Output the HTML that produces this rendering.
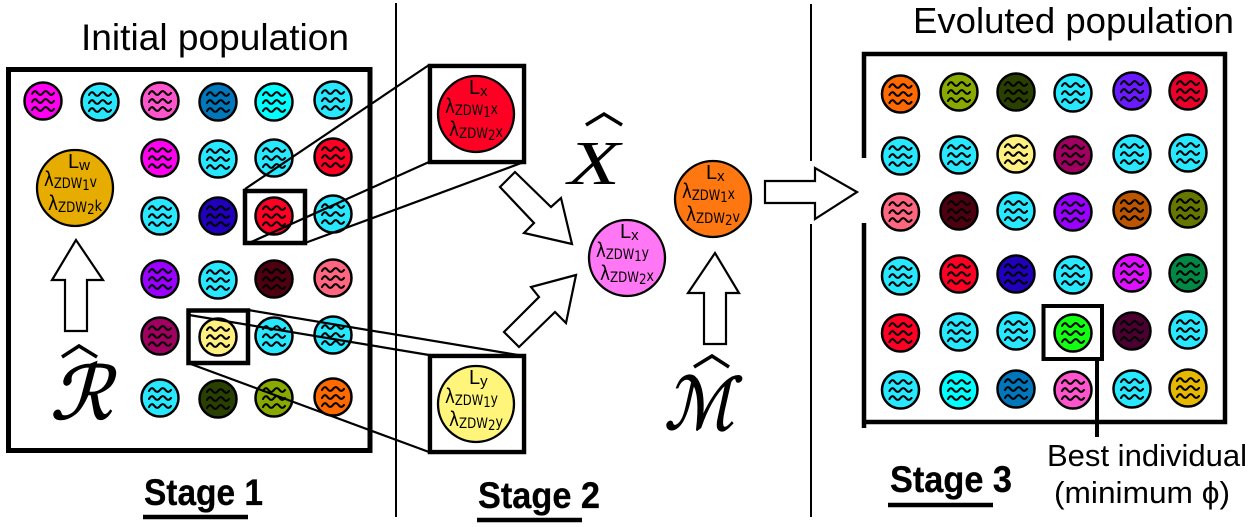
<!DOCTYPE html>
<html><head><meta charset="utf-8"><style>
html,body{margin:0;padding:0;background:#fff}
svg{display:block}
text{font-family:"Liberation Sans","DejaVu Sans",sans-serif;fill:#000}
.m{font-size:20px}.s{font-size:15px}.z{font-size:14px}.l{font-size:20px;font-family:"DejaVu Sans",sans-serif}
.b{font-weight:bold;stroke:#000;stroke-width:.3px}
</style></head><body>
<svg width="1253" height="527" viewBox="0 0 1253 527" xmlns="http://www.w3.org/2000/svg">
<defs>
<g id="w"><circle r="18.5" stroke="#000" stroke-width="2.500"/>
<path fill="none" stroke="#000" stroke-width="2.100" stroke-linecap="round" d="M-11 -7c2 -3.500 3.500 -3.500 5.500 -1s3.500 2.500 5.500 0s3.500 -2.500 5.500 0s3.500 2.500 5.500 0M-11 1c2 -3.500 3.500 -3.500 5.500 -1s3.500 2.500 5.500 0s3.500 -2.500 5.500 0s3.500 2.500 5.500 0M-11 9c2 -3.500 3.500 -3.500 5.500 -1s3.500 2.500 5.500 0s3.500 -2.500 5.500 0s3.500 2.500 5.500 0"/></g>
</defs>
<rect width="1253" height="527" fill="#fff"/>

<!-- dividers -->
<path d="M396 3V517M811 4V161M811 224V517" stroke="#000" stroke-width="2" fill="none"/>

<!-- headings -->
<text x="81" y="50" font-size="37" textLength="268" lengthAdjust="spacingAndGlyphs">Initial population</text>
<text x="913" y="33" font-size="36" textLength="321" lengthAdjust="spacingAndGlyphs">Evoluted population</text>
<text x="1047" y="466" font-size="31" textLength="200" lengthAdjust="spacingAndGlyphs">Best individual</text>
<text x="1054" y="503" font-size="31" textLength="176" lengthAdjust="spacingAndGlyphs">(minimum ϕ)</text>
<text x="144" y="505" font-size="37" class="b" textLength="119" lengthAdjust="spacingAndGlyphs">Stage 1</text>
<text x="478" y="508" font-size="37" class="b" textLength="122" lengthAdjust="spacingAndGlyphs">Stage 2</text>
<text x="890" y="492" font-size="37" class="b" textLength="122" lengthAdjust="spacingAndGlyphs">Stage 3</text>
<path d="M143 517H248M477 520H582M888 505H993" stroke="#000" stroke-width="4.500" fill="none"/>

<!-- frames -->
<rect x="8.500" y="69.500" width="361.500" height="381" fill="none" stroke="#000" stroke-width="5"/>
<path d="M864 158V54H1225V422H864M864 223V428" fill="none" stroke="#000" stroke-width="4.500"/>

<!-- left population -->
<g>
<use href="#w" x="43" y="101" fill="#ff00f0"/><use href="#w" x="100" y="102" fill="#28e8ff"/><use href="#w" x="160" y="101" fill="#ff55cc"/><use href="#w" x="218" y="102" fill="#0077bb"/><use href="#w" x="274" y="102" fill="#00ffff"/><use href="#w" x="333" y="100" fill="#28e8ff"/>
<use href="#w" x="160" y="158" fill="#ff00f0"/><use href="#w" x="218" y="159" fill="#28e8ff"/><use href="#w" x="274" y="158" fill="#28e8ff"/><use href="#w" x="333" y="157" fill="#ff0025"/>
<use href="#w" x="160" y="216" fill="#28e8ff"/><use href="#w" x="218" y="216" fill="#2000bb"/><use href="#w" x="274" y="216" fill="#ff0025"/><use href="#w" x="333" y="214" fill="#28e8ff"/>
<use href="#w" x="160" y="279" fill="#9900ff"/><use href="#w" x="218" y="280" fill="#28e8ff"/><use href="#w" x="274" y="279" fill="#4d0010"/><use href="#w" x="333" y="278" fill="#ff6680"/>
<use href="#w" x="160" y="336" fill="#a00060"/><use href="#w" x="218" y="337" fill="#fff080"/><use href="#w" x="274" y="336" fill="#28e8ff"/><use href="#w" x="333" y="335" fill="#28e8ff"/>
<use href="#w" x="160" y="398" fill="#28e8ff"/><use href="#w" x="218" y="399" fill="#2a4000"/><use href="#w" x="274" y="398" fill="#88aa00"/><use href="#w" x="333" y="397" fill="#ff6a00"/>
</g>

<!-- right population -->
<g>
<use href="#w" x="900.500" y="94" fill="#ff6a00"/><use href="#w" x="959" y="92" fill="#88aa00"/><use href="#w" x="1016" y="92" fill="#2a4000"/><use href="#w" x="1073" y="93" fill="#28e8ff"/><use href="#w" x="1132" y="91" fill="#6a1aff"/><use href="#w" x="1188" y="91" fill="#e8002a"/>
<use href="#w" x="900.500" y="156" fill="#28e8ff"/><use href="#w" x="959" y="155" fill="#28e8ff"/><use href="#w" x="1016" y="154" fill="#fff080"/><use href="#w" x="1073" y="155" fill="#a00060"/><use href="#w" x="1132" y="154" fill="#28e8ff"/><use href="#w" x="1188" y="153" fill="#28e8ff"/>
<use href="#w" x="900.500" y="212" fill="#ff6680"/><use href="#w" x="959" y="211" fill="#4d0010"/><use href="#w" x="1016" y="211" fill="#28e8ff"/><use href="#w" x="1073" y="212" fill="#9900ff"/><use href="#w" x="1132" y="210" fill="#bb5500"/><use href="#w" x="1188" y="209" fill="#667700"/>
<use href="#w" x="900.500" y="276" fill="#28e8ff"/><use href="#w" x="959" y="274" fill="#ff0025"/><use href="#w" x="1016" y="274" fill="#2000bb"/><use href="#w" x="1073" y="275" fill="#28e8ff"/><use href="#w" x="1132" y="273" fill="#dd11ff"/><use href="#w" x="1188" y="273" fill="#008844"/>
<use href="#w" x="900.500" y="333" fill="#ff0025"/><use href="#w" x="959" y="332" fill="#28e8ff"/><use href="#w" x="1016" y="331" fill="#28e8ff"/><use href="#w" x="1073" y="333" fill="#11ff11"/><use href="#w" x="1132" y="331" fill="#4a0030"/><use href="#w" x="1188" y="330" fill="#28e8ff"/>
<use href="#w" x="900.500" y="390" fill="#28e8ff"/><use href="#w" x="959" y="390" fill="#00ffff"/><use href="#w" x="1016" y="389" fill="#0077bb"/><use href="#w" x="1073" y="390" fill="#ff55cc"/><use href="#w" x="1132" y="389" fill="#28e8ff"/><use href="#w" x="1188" y="388" fill="#e6b800"/>
</g>

<!-- zoom boxes and connectors -->
<g fill="none" stroke="#000">
<path stroke-width="2.200" d="M245 189L429 65M249 243L429 162M305 243L524 162M248 310L524 356M189 315L429 355M188 363L429 452"/>
<rect x="245" y="191" width="60" height="52" stroke-width="4.500"/>
<rect x="188.500" y="310.500" width="59.500" height="52.500" stroke-width="4.500"/>
<rect x="430" y="66" width="94" height="96" stroke-width="4.500"/>
<rect x="430" y="356" width="94" height="96" stroke-width="4.500"/>
<rect x="1043.500" y="306" width="58.500" height="53" stroke-width="4"/>
<path stroke-width="4" d="M1097 359V437"/>
</g>
<rect x="432.300" y="68.300" width="89.400" height="91.400" fill="#fff"/>
<rect x="432.300" y="358.300" width="89.400" height="91.400" fill="#fff"/>

<!-- arrows -->
<g fill="#fff" stroke="#000" stroke-width="2.200" stroke-linejoin="miter">
<path d="M76 240L52 280H65V331H87V280H103Z"/>
<path d="M515 172L551 207L561 198L572 244L524 233L534 223L500 187Z"/>
<path d="M576 275L531 287L539 297L504 332L519 347L555 312L566 323Z"/>
<path d="M715 253L688 293H704V344H726V293H739Z"/>
<path d="M765 181H815V168L857 192L815 219V203H765Z"/>
</g>

<!-- big circles -->
<g stroke="#000" stroke-width="2.300">
<circle cx="75" cy="188" r="38" fill="#e6ac00"/>
<circle cx="476" cy="114" r="38" fill="#ff0025"/>
<circle cx="476" cy="404" r="38" fill="#fff57a"/>
<circle cx="627" cy="258" r="38" fill="#ff77f5"/>
<circle cx="713" cy="199" r="38" fill="#ff7711"/>
</g>
<g>
<text x="68" y="168" class="m">L<tspan class="s" dy="2">w</tspan></text>
<text x="44" y="186" class="l" textLength="53" lengthAdjust="spacingAndGlyphs">λ<tspan class="z" dy="2">ZDW</tspan><tspan class="z" dy="2">1</tspan><tspan class="s" dy="-3">v</tspan></text>
<text x="48" y="210" class="l" textLength="54" lengthAdjust="spacingAndGlyphs">λ<tspan class="z" dy="2">ZDW</tspan><tspan class="z" dy="2">2</tspan><tspan class="s" dy="-3">k</tspan></text>

<text x="469" y="94" class="m">L<tspan class="s" dy="2">x</tspan></text>
<text x="445" y="113" class="l" textLength="53" lengthAdjust="spacingAndGlyphs">λ<tspan class="z" dy="2">ZDW</tspan><tspan class="z" dy="2">1</tspan><tspan class="s" dy="-3">x</tspan></text>
<text x="449" y="136" class="l" textLength="54" lengthAdjust="spacingAndGlyphs">λ<tspan class="z" dy="2">ZDW</tspan><tspan class="z" dy="2">2</tspan><tspan class="s" dy="-3">x</tspan></text>

<text x="469" y="384" class="m">L<tspan class="s" dy="2">y</tspan></text>
<text x="445" y="403" class="l" textLength="53" lengthAdjust="spacingAndGlyphs">λ<tspan class="z" dy="2">ZDW</tspan><tspan class="z" dy="2">1</tspan><tspan class="s" dy="-3">y</tspan></text>
<text x="449" y="426" class="l" textLength="54" lengthAdjust="spacingAndGlyphs">λ<tspan class="z" dy="2">ZDW</tspan><tspan class="z" dy="2">2</tspan><tspan class="s" dy="-3">y</tspan></text>

<text x="620" y="238" class="m">L<tspan class="s" dy="2">x</tspan></text>
<text x="596" y="257" class="l" textLength="53" lengthAdjust="spacingAndGlyphs">λ<tspan class="z" dy="2">ZDW</tspan><tspan class="z" dy="2">1</tspan><tspan class="s" dy="-3">y</tspan></text>
<text x="600" y="280" class="l" textLength="54" lengthAdjust="spacingAndGlyphs">λ<tspan class="z" dy="2">ZDW</tspan><tspan class="z" dy="2">2</tspan><tspan class="s" dy="-3">x</tspan></text>

<text x="706" y="179" class="m">L<tspan class="s" dy="2">x</tspan></text>
<text x="682" y="198" class="l" textLength="53" lengthAdjust="spacingAndGlyphs">λ<tspan class="z" dy="2">ZDW</tspan><tspan class="z" dy="2">1</tspan><tspan class="s" dy="-3">x</tspan></text>
<text x="686" y="221" class="l" textLength="54" lengthAdjust="spacingAndGlyphs">λ<tspan class="z" dy="2">ZDW</tspan><tspan class="z" dy="2">2</tspan><tspan class="s" dy="-3">v</tspan></text>
</g>

<!-- operators -->
<path d="M62 357L79 346L97 357M586 125L604 114L622 125M694 367L712 356L729 367" fill="none" stroke="#000" stroke-width="3.500"/>
<text x="50" y="419" font-size="74" font-style="italic" style="font-family:'Liberation Serif','DejaVu Serif',serif;stroke:#000;stroke-width:1.200px" textLength="62" lengthAdjust="spacingAndGlyphs">ℛ</text>
<text x="568" y="184" font-size="62" font-style="italic" style="font-family:'Liberation Serif',serif" textLength="52" lengthAdjust="spacingAndGlyphs">X</text>
<text x="664" y="429" font-size="72" font-style="italic" style="font-family:'Liberation Serif','DejaVu Serif',serif;stroke:#000;stroke-width:1.200px" textLength="70" lengthAdjust="spacingAndGlyphs">ℳ</text>
</svg>
</body></html>
